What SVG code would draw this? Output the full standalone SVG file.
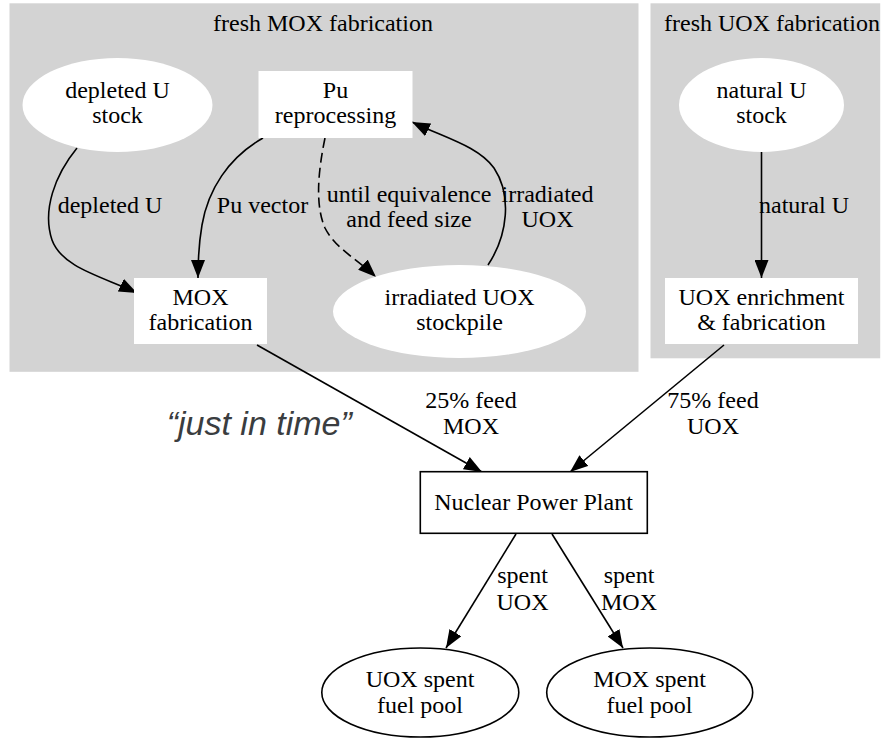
<svg xmlns="http://www.w3.org/2000/svg" width="885" height="739" viewBox="0 0 885 739">
<style>
  .cl { fill: #d3d3d3; stroke: none; }
  .wn { fill: #ffffff; stroke: none; }
  .on { fill: #ffffff; stroke: #000000; stroke-width: 1.6; }
  text { font-family: "Liberation Serif", "Times New Roman", serif; font-size: 24px; fill: #000000; text-anchor: middle; }
  .e { fill: none; stroke: #000000; stroke-width: 1.6; marker-end: url(#ah); }
  .d { stroke-dasharray: 10,5; }
  .note { font-family: "Liberation Sans", Arial, sans-serif; font-style: italic; font-size: 34px; fill: #3a3d40; text-anchor: start; }
</style>
<defs>
  <marker id="ah" viewBox="0 0 18 14" refX="18" refY="7" markerWidth="18" markerHeight="14" markerUnits="userSpaceOnUse" orient="auto">
    <path d="M0,0 L18,7 L0,14 z" fill="#000000"/>
  </marker>
</defs>

<g id="cluster_mox">
  <rect class="cl" x="9.5" y="3.3" width="629" height="368.5"/>
  <text x="323" y="31">fresh MOX fabrication</text>
</g>
<g id="cluster_uox">
  <rect class="cl" x="650.5" y="3.3" width="229.7" height="355"/>
  <text x="772" y="31">fresh UOX fabrication</text>
</g>

<g id="edges">
  <path class="e" d="M77,148 C55,175 42,210 52,240 C62,268 104,277 137,293"/>
  <path class="e" d="M263,138 C228,158 208,190 202,225 C198,248 198,262 198,278"/>
  <path class="e d" d="M325,138 C318,172 315,205 325,228 C335,248 358,260 376,277"/>
  <path class="e" d="M488,265 C508,235 512,195 494,168 C478,146 445,138 412,122"/>
  <path class="e" d="M761.5,152 L761.5,278"/>
  <path class="e" d="M257,345 L482,472"/>
  <path class="e" d="M724,345 L570,472"/>
  <path class="e" d="M516,534 L446,648"/>
  <path class="e" d="M552,534 L623,648"/>
  <text x="110" y="213">depleted U</text>
  <text x="262.5" y="213">Pu vector</text>
  <text x="409" y="201.7">until equivalence</text>
  <text x="409" y="226.7">and feed size</text>
  <text x="547.5" y="201.7">irradiated</text>
  <text x="547.5" y="226.7">UOX</text>
  <text x="804" y="213">natural U</text>
  <text x="471" y="408">25% feed</text>
  <text x="471" y="434">MOX</text>
  <text x="713" y="408">75% feed</text>
  <text x="713" y="434">UOX</text>
  <text x="522.5" y="583">spent</text>
  <text x="522.5" y="610">UOX</text>
  <text x="629" y="583">spent</text>
  <text x="629" y="610">MOX</text>
</g>

<g id="depleted_u_stock">
  <ellipse class="wn" cx="117.5" cy="105" rx="95" ry="47"/>
  <text x="117.5" y="97.7">depleted U</text>
  <text x="117.5" y="123.3">stock</text>
</g>
<g id="pu_reprocessing">
  <rect class="wn" x="258.5" y="71" width="154" height="67"/>
  <text x="335.5" y="97.7">Pu</text>
  <text x="335.5" y="123.3">reprocessing</text>
</g>
<g id="mox_fabrication">
  <rect class="wn" x="134" y="278" width="133" height="66"/>
  <text x="200.5" y="305">MOX</text>
  <text x="200.5" y="330">fabrication</text>
</g>
<g id="irradiated_uox_stockpile">
  <ellipse class="wn" cx="459.5" cy="311.5" rx="126.5" ry="46.5"/>
  <text x="459.5" y="305">irradiated UOX</text>
  <text x="459.5" y="330">stockpile</text>
</g>
<g id="natural_u_stock">
  <ellipse class="wn" cx="761.5" cy="105" rx="82.5" ry="47"/>
  <text x="761.5" y="97.7">natural U</text>
  <text x="761.5" y="123.3">stock</text>
</g>
<g id="uox_enrichment">
  <rect class="wn" x="665" y="278" width="193" height="66"/>
  <text x="761.5" y="305">UOX enrichment</text>
  <text x="761.5" y="330">&amp; fabrication</text>
</g>
<g id="nuclear_power_plant">
  <rect class="on" x="420.3" y="471.7" width="227" height="61.6"/>
  <text x="533.5" y="510">Nuclear Power Plant</text>
</g>
<g id="uox_spent_fuel_pool">
  <ellipse class="on" cx="420.3" cy="692.5" rx="98.5" ry="44.5"/>
  <text x="420" y="687">UOX spent</text>
  <text x="420" y="712.7">fuel pool</text>
</g>
<g id="mox_spent_fuel_pool">
  <ellipse class="on" cx="649.7" cy="692.5" rx="103" ry="44.5"/>
  <text x="649.5" y="687">MOX spent</text>
  <text x="649.5" y="712.7">fuel pool</text>
</g>

<text class="note" x="166.7" y="435">“just in time”</text>
</svg>
